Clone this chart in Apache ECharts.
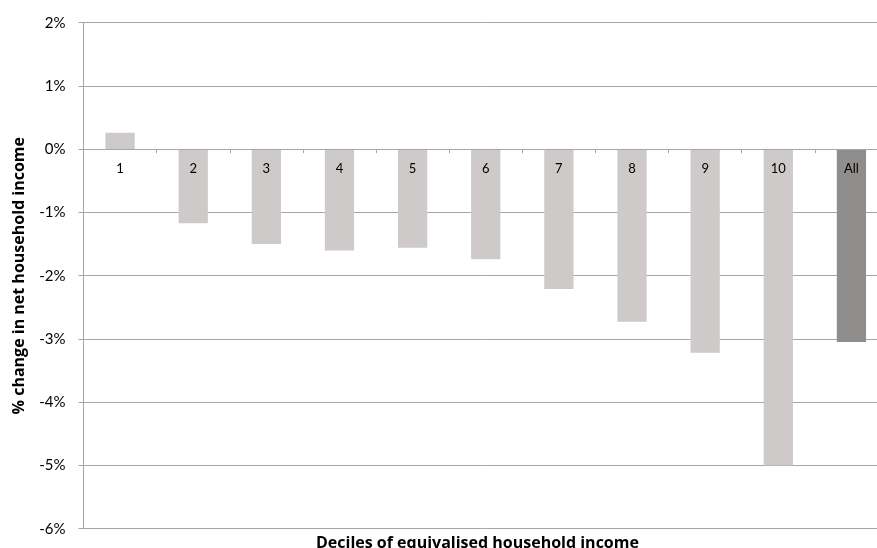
<!DOCTYPE html>
<html>
<head>
<meta charset="utf-8">
<script src="https://cdn.jsdelivr.net/npm/echarts@6/dist/echarts.min.js"></script>
<style>html,body{margin:0;padding:0;background:#fff}#c{width:877px;height:548px}</style>
</head>
<body>
<div id="c"></div>
<script>
const categories = ['1','2','3','4','5','6','7','8','9','10','All'];
const values = [0.26, -1.17, -1.50, -1.60, -1.56, -1.74, -2.21, -2.73, -3.22, -5.00, -3.05];
const yMin = -6, yMax = 2, yStep = 1;
const xTitle = 'Deciles of equivalised household income';
const yTitle = '% change in net household income';

const lightColor = '#cdcac9';
const darkColor = '#8f8e8c';
const font = 'Lato';
const titleFont = 'Open Sans';

const gridTop = 22.7, gridBottom = 19.3, chartH = 548;
const plotH = chartH - gridTop - gridBottom;
const zeroOffset = -plotH * (0 - yMin) / (yMax - yMin);

const chart = echarts.init(document.getElementById('c'));
chart.setOption({
  animation: false,
  grid: { left: 83.5, top: gridTop, right: -11, bottom: gridBottom, containLabel: false, outerBoundsMode: 'none' },
  xAxis: {
    type: 'category',
    data: categories,
    boundaryGap: true,
    position: 'bottom',
    offset: zeroOffset,
    axisLine: { onZero: false, lineStyle: { color: '#a6a6a6', width: 1 } },
    axisTick: { show: true, length: 4, lineStyle: { color: '#a6a6a6' } },
    axisLabel: { margin: 13, fontFamily: font, fontSize: 13, color: '#000' },
    z: 10
  },
  yAxis: {
    type: 'value',
    min: yMin, max: yMax, interval: yStep,
    name: yTitle,
    nameLocation: 'middle',
    nameGap: 56,
    nameRotate: 90,
    nameTextStyle: { fontFamily: titleFont, fontWeight: 'bold', fontSize: 16, color: '#000' },
    axisLine: { show: true, lineStyle: { color: '#a6a6a6', width: 1 } },
    axisTick: { show: true, length: 5, lineStyle: { color: '#a6a6a6' } },
    axisLabel: { margin: 18, fontFamily: font, fontSize: 15, color: '#000', formatter: v => v + '%' },
    splitLine: { show: true, lineStyle: { color: '#a6a6a6', width: 1 } }
  },
  graphic: [{
    type: 'text',
    left: 486 - 170,
    bottom: -3,
    style: { text: xTitle, fontFamily: titleFont, fontWeight: 'bold', fontSize: 16, fill: '#000' }
  }],
  series: [{
    type: 'bar',
    data: values.map((v, i) => ({ value: v, itemStyle: { color: categories[i] === 'All' ? darkColor : lightColor } })),
    barWidth: '40%'
  }]
});
</script>
</body>
</html>
